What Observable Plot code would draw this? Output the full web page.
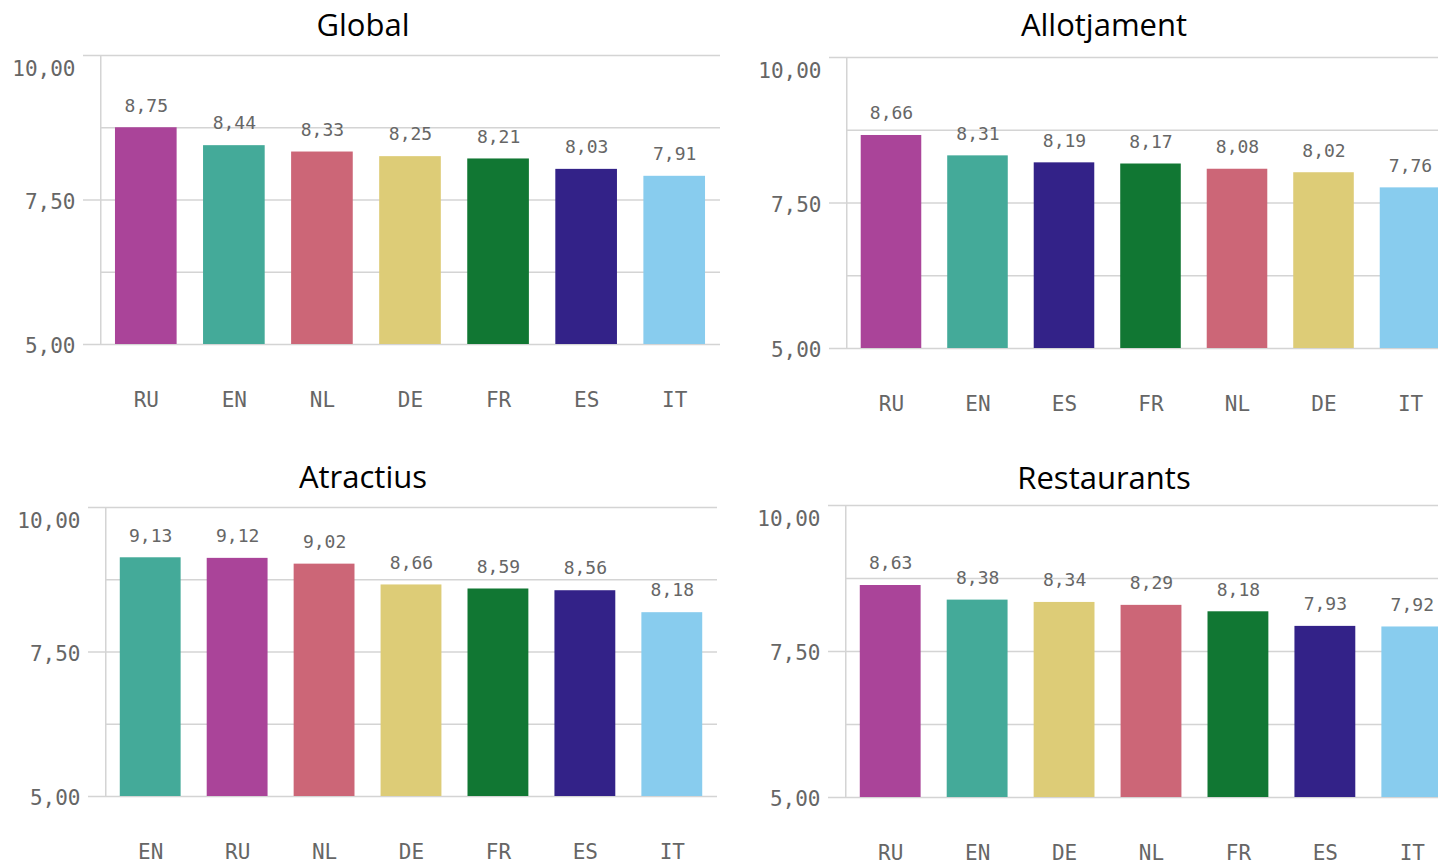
<!DOCTYPE html>
<html>
<head>
<meta charset="utf-8">
<script src="https://cdn.jsdelivr.net/npm/d3@7"></script>
<script src="https://cdn.jsdelivr.net/npm/@observablehq/plot@0.6"></script>
<style>
  html, body { margin: 0; padding: 0; background: #fff; overflow: hidden; width: 1438px; height: 864px; }
  #root { position: relative; width: 1438px; height: 864px; overflow: hidden; }
  .title { position: absolute; transform: translate(-50%, -50%); font-family: "Open Sans", "Noto Sans", sans-serif; font-size: 31px; color: #000; white-space: nowrap; }
  .panel { position: absolute; }
  .panel svg { max-width: none !important; }
</style>
</head>
<body>
<div id="root"></div>
<script>
// ---- data ----
const languages = ["RU", "EN", "NL", "DE", "FR", "ES", "IT"];
const languageColors = ["#AA4499", "#44AA99", "#CC6677", "#DDCC77", "#117733", "#332288", "#88CCEE"];

const globalTitle = "Global";
const globalCats = ["RU", "EN", "NL", "DE", "FR", "ES", "IT"];
const globalVals = [8.75, 8.44, 8.33, 8.25, 8.21, 8.03, 7.91];

const allotTitle = "Allotjament";
const allotCats = ["RU", "EN", "ES", "FR", "NL", "DE", "IT"];
const allotVals = [8.66, 8.31, 8.19, 8.17, 8.08, 8.02, 7.76];

const atracTitle = "Atractius";
const atracCats = ["EN", "RU", "NL", "DE", "FR", "ES", "IT"];
const atracVals = [9.13, 9.12, 9.02, 8.66, 8.59, 8.56, 8.18];

const restTitle = "Restaurants";
const restCats = ["RU", "EN", "DE", "NL", "FR", "ES", "IT"];
const restVals = [8.63, 8.38, 8.34, 8.29, 8.18, 7.93, 7.92];

const yDomain = [5, 10];
const majorTicks = [5, 7.5, 10];
const minorTicks = [6.25, 8.75];

// ---- drawing ----
const fmt = v => v.toFixed(2).replace(".", ",");
const root = document.getElementById("root");

function panel({title, cats, vals, axisX, topY, bottomY, rightX, titleX, titleY}) {
  const data = cats.map((c, i) => ({cat: c, v: vals[i]}));
  const mL = 100, mT = 20, mB = 80;
  const left = axisX - mL;
  const width = rightX - left;
  const plotH = bottomY - topY;
  const height = plotH + mT + mB;
  const plotW = width - mL;
  const grid = "#d4d4d4";
  const topTick = majorTicks[majorTicks.length - 1];
  const lowerTicks = majorTicks.slice(0, -1);

  const chart = Plot.plot({
    width, height,
    marginLeft: mL, marginRight: 0, marginTop: mT, marginBottom: mB,
    style: {fontFamily: "DejaVu Sans Mono, monospace", background: "transparent", overflow: "visible", maxWidth: "none"},
    x: {domain: cats, paddingInner: 0.3, paddingOuter: 0.17, round: false, axis: null},
    y: {domain: yDomain, axis: null, label: null},
    color: {domain: languages, range: languageColors},
    marks: [
      Plot.ruleY(minorTicks, {stroke: grid, strokeWidth: 1.5}),
      Plot.ruleY(majorTicks, {stroke: grid, strokeWidth: 1.5, insetLeft: -17}),
      Plot.rect([0], {y1: yDomain[0], y2: yDomain[1], fill: grid, insetRight: plotW - 1.5}),
      Plot.axisY({ticks: lowerTicks, tickSize: 0, tickPadding: 25, tickFormat: fmt, fontSize: 21, fill: "#666", textAnchor: "end", label: null, dy: 2}),
      Plot.axisY({ticks: [topTick], tickSize: 0, tickPadding: 25, tickFormat: fmt, fontSize: 21, fill: "#666", textAnchor: "end", label: null, dy: 14}),
      Plot.barY(data, {x: "cat", y1: yDomain[0], y2: "v", fill: "cat"}),
      Plot.text(data, {x: "cat", y: "v", text: d => fmt(d.v), dy: -22, lineAnchor: "middle", fontSize: 18, fill: "#666"}),
      Plot.text(data, {x: "cat", y: yDomain[0], text: "cat", dy: 56, lineAnchor: "middle", fontSize: 21, fill: "#666"})
    ]
  });
  const wrap = document.createElement("div");
  wrap.className = "panel";
  wrap.style.left = left + "px";
  wrap.style.top = (topY - mT) + "px";
  wrap.style.width = width + "px";
  wrap.style.height = height + "px";
  wrap.appendChild(chart);
  root.appendChild(wrap);

  const t = document.createElement("div");
  t.className = "title";
  t.textContent = title;
  t.style.left = titleX + "px";
  t.style.top = titleY + "px";
  root.appendChild(t);
}

panel({title: globalTitle, cats: globalCats, vals: globalVals, axisX: 100, topY: 55, bottomY: 344, rightX: 720, titleX: 363, titleY: 24});
panel({title: allotTitle, cats: allotCats, vals: allotVals, axisX: 846, topY: 57, bottomY: 348, rightX: 1455, titleX: 1104, titleY: 24});
panel({title: atracTitle, cats: atracCats, vals: atracVals, axisX: 105, topY: 507, bottomY: 796, rightX: 717, titleX: 363, titleY: 476});
panel({title: restTitle, cats: restCats, vals: restVals, axisX: 845, topY: 505, bottomY: 797, rightX: 1457, titleX: 1104, titleY: 477});
</script>
</body>
</html>
